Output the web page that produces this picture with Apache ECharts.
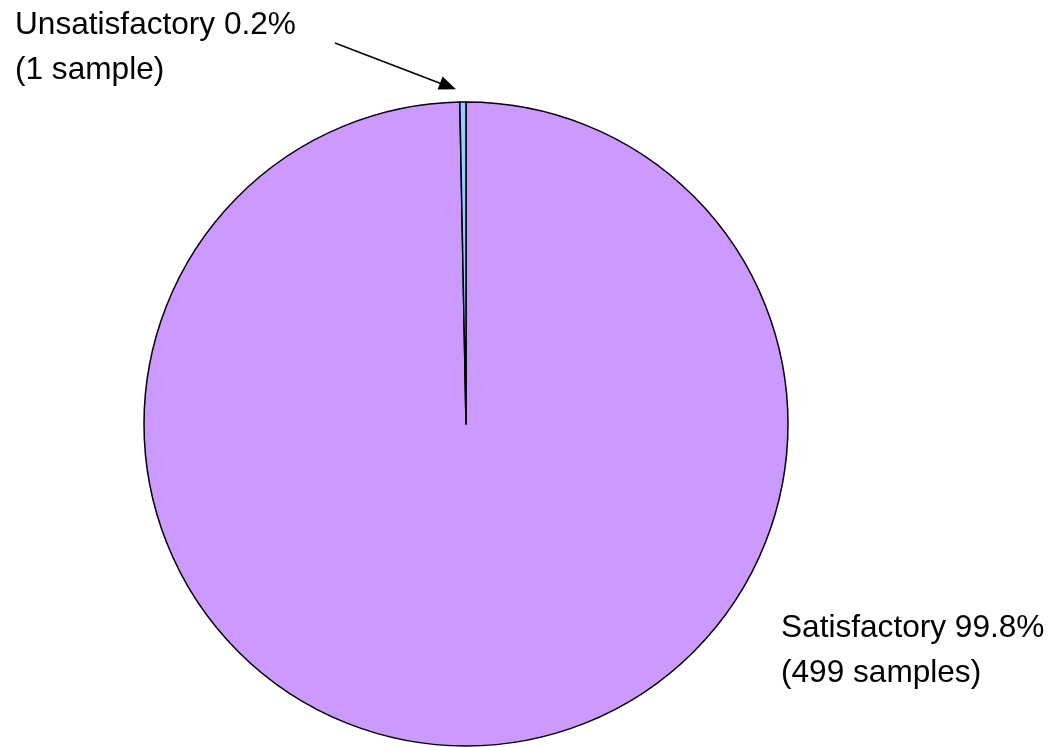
<!DOCTYPE html>
<html>
<head>
<meta charset="utf-8">
<script src="https://cdn.jsdelivr.net/npm/echarts@6/dist/echarts.min.js"></script>
<style>
html,body{margin:0;padding:0;background:#fff;}
#chart{width:1049px;height:747px;}
</style>
</head>
<body>
<div id="chart"></div>
<script>
var categories = ['Satisfactory', 'Unsatisfactory'];
var sampleCounts = [499, 1];
var sliceColors = ['#CC99FF', '#99CCFF'];

var labelPos = {
  'Satisfactory': [781, 606],
  'Unsatisfactory': [15, 3]
};

var chart = echarts.init(document.getElementById('chart'), null, {renderer: 'canvas'});
var option = {
  animation: false,
  backgroundColor: '#ffffff',
  series: [{
    type: 'pie',
    center: [466, 424],
    radius: 322,
    startAngle: 90,
    clockwise: true,
    avoidLabelOverlap: false,
    percentPrecision: 1,
    minAngle: 1.1,
    data: categories.map(function (c, i) {
      return {name: c, value: sampleCounts[i], itemStyle: {color: sliceColors[i]}};
    }),
    itemStyle: {borderColor: '#000000', borderWidth: 1.5},
    emphasis: {disabled: true},
    label: {
      show: true,
      position: 'outside',
      color: '#000000',
      fontFamily: 'Liberation Sans, Arial, sans-serif',
      fontSize: 31.6,
      lineHeight: 45,
      formatter: function (p) {
        return p.name + ' ' + p.percent + '%\n(' + p.value + (p.value === 1 ? ' sample)' : ' samples)');
      }
    },
    labelLine: {show: false},
    labelLayout: function (params) {
      var name = categories[params.dataIndex];
      var pos = labelPos[name];
      return {x: pos[0], y: pos[1], align: 'left', verticalAlign: 'top', hideOverlap: false};
    }
  }],
  graphic: [
    {
      type: 'line',
      shape: {x1: 335, y1: 43, x2: 442, y2: 84},
      style: {stroke: '#000000', lineWidth: 1.5}
    },
    {
      type: 'polygon',
      shape: {points: [[456, 89.3], [437.6, 89.5], [442.6, 76.5]]},
      style: {fill: '#000000'}
    }
  ]
};
chart.setOption(option);
</script>
</body>
</html>
